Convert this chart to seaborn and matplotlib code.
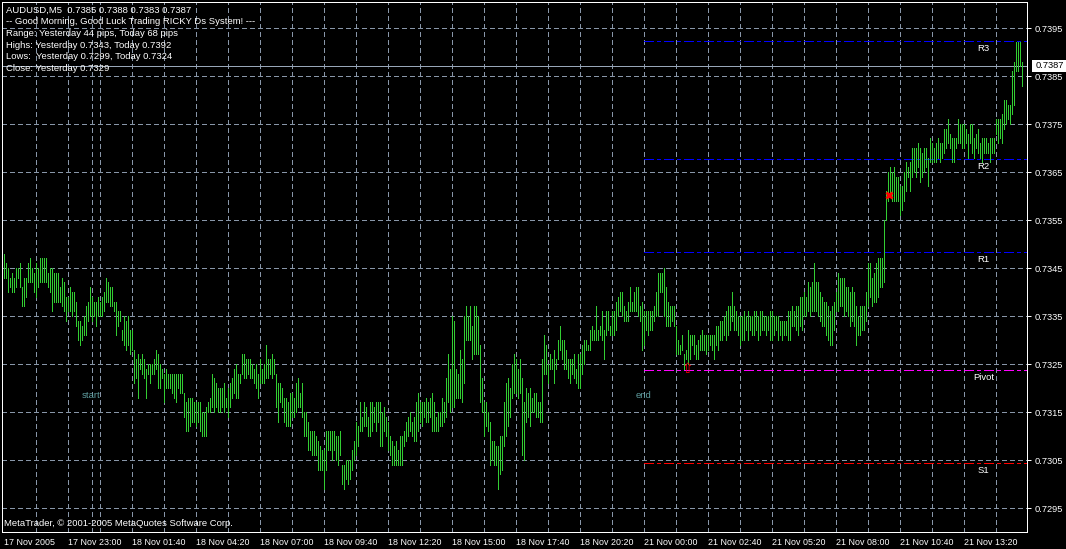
import numpy as np
import pandas as pd
import matplotlib
matplotlib.use("Agg")
import matplotlib.pyplot as plt
from matplotlib.patches import Rectangle
import seaborn as sns

# ---------------- data ----------------
header_lines = [
    "AUDUSD,M5  0.7385 0.7388 0.7383 0.7387",
    "-- Good Morning, Good Luck Trading RICKY Ds System! ---",
    "Range: Yesterday 44 pips, Today 68 pips",
    "Highs: Yesterday 0.7343, Today 0.7392",
    "Lows:  Yesterday 0.7299, Today 0.7324",
    "Close: Yesterday 0.7329",
]
footer_text = "MetaTrader, \u00a9 2001-2005 MetaQuotes Software Corp."

x_labels = ["17 Nov 2005", "17 Nov 23:00", "18 Nov 01:40", "18 Nov 04:20",
            "18 Nov 07:00", "18 Nov 09:40", "18 Nov 12:20", "18 Nov 15:00",
            "18 Nov 17:40", "18 Nov 20:20", "21 Nov 00:00", "21 Nov 02:40",
            "21 Nov 05:20", "21 Nov 08:00", "21 Nov 10:40", "21 Nov 13:20"]
x_label_bars = [0, 32, 64, 96, 128, 160, 192, 224, 256, 288, 320, 352, 384, 416, 448, 480]
y_ticks = [0.7295, 0.7305, 0.7315, 0.7325, 0.7335, 0.7345, 0.7355, 0.7365, 0.7375, 0.7385, 0.7395]

# 5-minute bars, highs and lows in pips above 0.7300
high_pips = [
    48, 46, 45, 43, 44, 43, 45, 45, 46, 41, 43, 43, 46, 47, 45, 44, 46, 45, 47, 47,
    47, 47, 44, 45, 45, 44, 44, 44, 41, 43, 42, 39, 39, 41, 40, 40, 38, 34, 34, 33,
    35, 37, 38, 41, 39, 38, 38, 39, 38, 39, 40, 43, 42, 41, 41, 38, 38, 36, 36, 32,
    35, 34, 35, 32, 32, 28, 26, 27, 26, 27, 26, 24, 25, 25, 25, 26, 28, 27, 25, 24,
    23, 24, 23, 23, 23, 23, 23, 23, 23, 23, 19, 17, 18, 18, 18, 17, 17, 17, 17, 15,
    15, 16, 17, 18, 23, 22, 21, 20, 20, 20, 21, 18, 20, 21, 22, 24, 25, 23, 23, 27,
    27, 26, 26, 26, 25, 24, 25, 23, 26, 24, 25, 29, 26, 26, 27, 26, 23, 21, 21,
    20, 18, 18, 17, 19, 19, 18, 21, 22, 19, 21, 15, 15, 13, 11, 11, 11, 10, 9, 8,
    7, 7, 11, 11, 11, 11, 11, 10, 10, 11, 4, 4, 5, 5, 5, 7, 9, 13, 12, 17,
    14, 17, 16, 14, 17, 17, 16, 17, 17, 17, 15, 16, 14, 13, 10, 9, 8, 9, 7, 10,
    10, 11, 13, 14, 15, 13, 14, 17, 19, 17, 17, 17, 18, 17, 18, 19, 17, 14, 15, 15,
    18, 17, 22, 27, 24, 35, 34, 24, 23, 28, 26, 35, 37, 35, 37, 33, 37, 37, 35, 29,
    22, 17, 17, 15, 13, 9, 9, 8, 8, 10, 10, 17, 21, 22, 20, 25, 27, 26, 24, 26,
    22, 17, 20, 19, 20, 18, 19, 19, 17, 17, 26, 31, 29, 25, 27,
    26, 28, 26, 30, 33, 30, 30, 28, 26, 26, 26, 27, 24, 27, 27, 29, 30, 30, 29, 32,
    33, 32, 37, 32, 33, 36, 32, 36, 36, 33, 36, 36, 38, 39, 40,
    40, 37, 36, 38, 41, 38, 40, 41, 41, 37, 38, 36, 36, 36, 36, 36, 37, 40, 44, 44,
    44, 45, 41, 38, 37, 37, 37, 33, 30, 29, 31, 27, 28, 32, 31, 31, 31, 29, 30, 31,
    32, 31, 31, 31, 31, 31, 31, 33, 33, 34, 34, 35, 36, 37, 37, 40, 37, 36, 35, 35,
    35, 36, 35, 36, 35, 35, 36, 36, 35, 36, 36, 35, 35, 35, 36, 36, 35, 35, 35, 34,
    34, 34, 34, 36, 36, 37, 36, 37, 37, 39, 39, 40, 39, 42, 41, 42, 46, 42, 42, 40,
    39, 38, 38, 37, 36, 37, 38, 40, 44, 43, 43, 43, 41, 41, 40, 41, 40, 37, 35, 37,
    37, 37, 40, 46, 46, 43, 44, 46, 47, 47, 47, 55,
    61, 65, 66, 65, 66, 64, 64, 62, 62, 65, 67, 66, 67, 70, 70, 70, 71, 70, 69, 70,
    70, 68, 72, 71, 70, 71, 72, 71, 71, 74, 74, 76, 73, 72, 72, 72, 76, 75,
    75, 75, 74, 73, 75, 75, 72, 73, 74, 71, 72, 72, 72, 71, 72, 72, 72, 76, 76, 76,
    77, 80, 80, 79, 79, 86, 88, 92, 92, 92, 88,
]
low_pips = [
    43, 43, 40, 41, 40, 40, 41, 43, 41, 37, 37, 39, 42, 42, 42, 40, 39, 41, 42, 42,
    42, 42, 41, 40, 36, 38, 38, 38, 38, 37, 36, 34, 36, 36, 35, 36, 33, 30, 29, 30,
    31, 31, 34, 35, 34, 35, 33, 35, 35, 35, 36, 38, 38, 37, 37, 36, 31, 33, 34, 30,
    29, 28, 29, 27, 28, 21, 22, 18, 24, 23, 22, 18, 23, 21, 23, 23, 24, 20, 20, 22,
    17, 20, 20, 20, 19, 18, 17, 20, 19, 19, 14, 11, 11, 12, 13, 13, 12, 13, 11, 10,
    10, 10, 15, 15, 16, 15, 16, 15, 15, 16, 15, 16, 14, 16, 18, 19, 18, 18, 21, 23,
    22, 22, 23, 22, 22, 21, 20, 18, 21, 21, 21, 22, 22, 23, 22, 23, 16, 13, 17,
    16, 13, 12, 12, 12, 14, 14, 15, 16, 16, 14, 10, 10, 7, 7, 6, 6, 6, 3, 3,
    3, -1, 3, 7, 7, 5, 7, 5, 4, 6, 0, -1, 1, 0, 1, 3, 5, 6, 8, 11,
    11, 12, 12, 10, 10, 11, 13, 11, 13, 8, 8, 11, 10, 7, 6, 4, 4, 4, 4, 4,
    4, 8, 9, 10, 11, 10, 9, 9, 11, 13, 12, 14, 13, 13, 14, 11, 11, 11, 11, 12,
    12, 13, 14, 17, 15, 16, 16, 18, 18, 18, 17, 21, 30, 30, 30, 26, 27, 27, 27, 17,
    15, 10, 12, 11, 4, 5, 4, 4, -1, 2, 3, 8, 10, 12, 14, 18, 19, 19, 18, 19,
    6, 5, 13, 14, 12, 15, 15, 14, 14, 13, 13, 23, 23, 21, 24,
    24, 21, 24, 26, 28, 26, 24, 24, 22, 21, 23, 22, 21, 20, 20, 23, 25, 28, 28, 28,
    30, 30, 30, 30, 31, 30, 26, 31, 32, 31, 31, 31, 32, 35, 36,
    35, 34, 34, 34, 36, 36, 36, 36, 35, 34, 28, 29, 32, 31, 32, 32, 34, 35, 35, 40,
    40, 35, 33, 33, 33, 34, 33, 27, 27, 27, 28, 24, 26, 25, 26, 29, 27, 26, 26, 28,
    28, 28, 27, 28, 29, 28, 26, 29, 28, 30, 30, 31, 30, 31, 32, 34, 32, 32, 31, 29,
    30, 30, 32, 30, 32, 31, 31, 32, 30, 31, 32, 32, 31, 32, 30, 30, 31, 32, 30, 31,
    30, 31, 31, 30, 30, 33, 33, 32, 31, 33, 32, 35, 35, 36, 35, 36, 36, 36, 35, 34,
    33, 33, 31, 30, 29, 29, 32, 36, 36, 37, 37, 35, 36, 35, 33, 34, 33, 29, 31, 31,
    32, 32, 34, 37, 39, 37, 38, 38, 39, 41, 41, 42,
    55, 59, 60, 59, 59, 59, 59, 56, 57, 59, 61, 64, 61, 64, 65, 64, 66, 63, 64, 65,
    66, 62, 67, 67, 67, 67, 68, 67, 68, 69, 70, 71, 70, 67, 67, 70, 71, 71,
    70, 70, 71, 68, 71, 69, 68, 70, 69, 68, 67, 69, 69, 69, 67, 69, 69, 73, 71, 72,
    71, 74, 75, 76, 75, 77, 79, 86, 86, 87, 83,
]

level_names = ["R3", "R2", "R1", "Pivot", "S1"]
level_values = [0.73923, 0.73677, 0.73483, 0.73237, 0.73043]
last_price = 0.7387
start_bar = 44
end_bar = 320
arrow_bar, arrow_price = 342, 0.73239
cross_bar, cross_price = 442.75, 0.73603

# ---------------- style ----------------
W, H = 1066, 549
sns.set_style("dark", {"axes.facecolor": "black", "figure.facecolor": "black",
                       "axes.edgecolor": "white", "axes.grid": False})
plt.rcParams["font.family"] = ["Liberation Sans", "DejaVu Sans"]
plt.rcParams["lines.scale_dashes"] = False

GRID = "#8896a8"
BAR = "#32cd32"
level_colors = ["#0000ff", "#0000ff", "#0000ff", "#ff00ff", "#ff0000"]
PX = 0.72  # one pixel in points

fig = plt.figure(figsize=(W / 100, H / 100), dpi=100, facecolor="black")
ax = fig.add_axes([2 / W, (H - 532) / H, 1025 / W, 530 / H])
ax.set_facecolor("black")

xmin, xmax = -0.75, 511.75
ymin, ymax = 0.7290, 0.740042
ax.set_xlim(xmin, xmax)
ax.set_ylim(ymin, ymax)

# grid (drawn first)
grid_dash = (0, (2.9, 2.2))
for yv in y_ticks:
    ax.axhline(yv, color=GRID, lw=PX, ls=grid_dash, zorder=1, antialiased=False)
for xb in list(range(16, 512, 16)) + [start_bar]:
    ax.axvline(xb, color=GRID, lw=PX, ls=grid_dash, zorder=1, antialiased=False)

# last price line
ax.axhline(last_price, color="#98a6b8", lw=PX, zorder=1.5, antialiased=False)

# bars via seaborn
n = len(high_pips)
idx = np.arange(n)
highs = 0.7300 + np.array(high_pips) / 10000.0
lows = 0.7300 + np.array(low_pips) / 10000.0
df = pd.DataFrame({
    "bar": np.repeat(idx, 2),
    "price": np.column_stack([lows, highs]).ravel(),
})
n_before = len(ax.lines)
sns.lineplot(data=df, x="bar", y="price", units="bar", estimator=None,
             sort=False, color=BAR, linewidth=PX, ax=ax, legend=False, zorder=3)
for ln in ax.lines[n_before:]:
    ln.set_antialiased(False)
    ln.set_solid_capstyle("butt")

# pivot levels
dashdot = (0, (6.5, 2.2, 2.2, 2.2))
for name, val, col in zip(level_names, level_values, level_colors):
    ax.plot([end_bar, xmax], [val, val], color=col, lw=PX, ls=dashdot,
            zorder=2, antialiased=False)
    ax.annotate(name, (490, val), xytext=(0, -3), textcoords="offset pixels",
                ha="center", va="top", color="white", fontsize=6.8, zorder=5)

# start / end labels
ax.text(start_bar, 0.731854, "start", color="#5f9ea0", fontsize=6.8,
        ha="center", va="center", zorder=5)
ax.text(end_bar, 0.731854, "end", color="#5f9ea0", fontsize=6.8,
        ha="center", va="center", zorder=5)

# signal markers
ax.text(arrow_bar, arrow_price, "\u21e7", color="red", fontsize=10,
        family=["DejaVu Sans"], ha="center", va="center", zorder=6)
ax.plot([cross_bar], [cross_price], marker="x", ms=5, mew=2, color="red",
        zorder=6, ls="none")

# axes cosmetics
for s in ax.spines.values():
    s.set_color("white")
    s.set_linewidth(PX)
    s.set_visible(True)

ax.yaxis.tick_right()
ax.set_yticks(y_ticks)
ax.set_yticklabels([f"{v:.4f}" for v in y_ticks])
ax.set_xticks(x_label_bars)
ax.set_xticklabels(x_labels)
for lab in ax.get_xticklabels():
    lab.set_horizontalalignment("left")
ax.tick_params(axis="x", colors="white", length=3, width=PX, labelsize=6.4,
               pad=1.5, direction="out")
ax.tick_params(axis="y", colors="white", length=3, width=PX, labelsize=6.7,
               pad=2.5, direction="out")
ax.set_xlabel("")
ax.set_ylabel("")

# header comment text
def fy(py):
    return 1 - py / H

for k, line in enumerate(header_lines):
    fig.text(6 / W, fy(10 + 11.7 * k), line, color="white", fontsize=6.8,
             ha="left", va="center")

fig.text(4 / W, fy(524), footer_text, color="white", fontsize=6.8,
         ha="left", va="center")

# last price box on the price scale
fig.patches.append(Rectangle((1032 / W, fy(72)), 34 / W, 12 / H,
                             transform=fig.transFigure, facecolor="white",
                             edgecolor="none", zorder=10))
fig.text(1036 / W, fy(66), f"{last_price:.4f}", color="black", fontsize=6.7,
         ha="left", va="center", zorder=11)

fig.savefig("out.png", dpi=100, facecolor="black")
